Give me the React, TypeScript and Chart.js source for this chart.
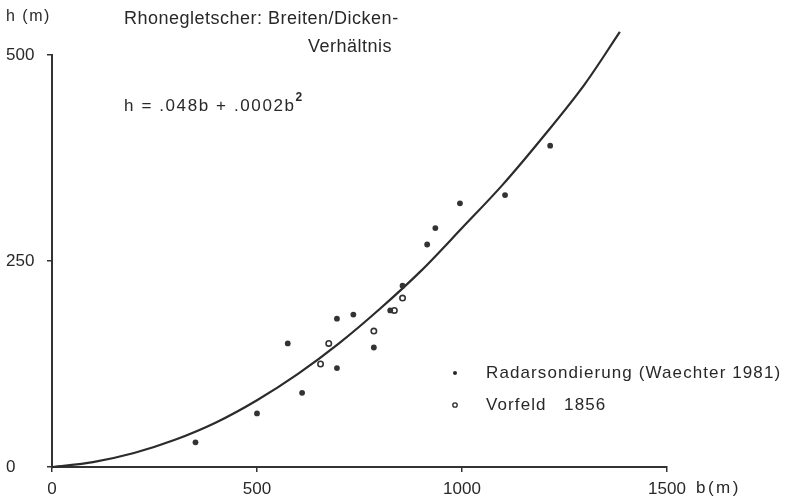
import React, { useEffect, useRef } from 'react';
import { Chart, registerables } from 'chart.js';

Chart.register(...registerables);

// Radarsondierung (Waechter 1981) — filled dots
const radarB = [350, 500, 610, 575, 695, 695, 735, 785, 825, 855, 915, 935, 995, 1105, 1215];
const radarH = [30, 65, 90, 150, 120, 180, 185, 145, 190, 220, 270, 290, 320, 330, 390];

// Vorfeld 1856 — open circles
const vorfeldB = [655, 675, 785, 835, 855];
const vorfeldH = [125, 150, 165, 190, 205];

// fitted curve
const curveB = [0, 100, 200, 300, 400, 500, 600, 700, 800, 900, 1000, 1100, 1200, 1300, 1385];
const curveH = [0, 6, 17, 33, 54, 81, 113, 150, 192, 238, 290, 343, 402, 465, 528];

const xTicks = [0, 500, 1000, 1500];
const yTicks = [0, 250, 500];

const titleLine1 = 'Rhonegletscher: Breiten/Dicken-';
const titleLine2 = 'Verhältnis';
const formulaText = 'h = .048b + .0002b';
const yAxisLabel = 'h (m)';
const xAxisLabel = 'b(m)';
const legendLabels = ['Radarsondierung (Waechter 1981)', 'Vorfeld   1856'];

const INK = '#282828';
const FONT = '"Liberation Sans", Arial, sans-serif';

const textPlugin = {
  id: 'textPlugin',
  afterDraw(chart: any) {
    const ctx = chart.ctx;
    ctx.save();
    ctx.fillStyle = INK;
    ctx.strokeStyle = INK;
    ctx.textBaseline = 'middle';
    ctx.textAlign = 'left';

    ctx.font = `18px ${FONT}`;
    (ctx as any).letterSpacing = '0.5px';
    ctx.fillText(titleLine1, 124, 19);
    ctx.fillText(titleLine2, 308, 47);

    ctx.font = `17px ${FONT}`;
    (ctx as any).letterSpacing = '1.6px';
    ctx.fillText(formulaText, 124, 106);
    const w = ctx.measureText(formulaText).width;
    ctx.font = `bold 12px ${FONT}`;
    (ctx as any).letterSpacing = '0px';
    ctx.fillText('2', 124 + w, 98);

    ctx.font = `16px ${FONT}`;
    (ctx as any).letterSpacing = '1.5px';
    ctx.fillText(yAxisLabel, 6, 17);

    ctx.font = `17px ${FONT}`;
    (ctx as any).letterSpacing = '2.5px';
    ctx.fillText(xAxisLabel, 696, 488);

    // legend
    ctx.font = `17px ${FONT}`;
    (ctx as any).letterSpacing = '1.1px';
    ctx.beginPath();
    ctx.arc(455, 373, 2, 0, Math.PI * 2);
    ctx.fill();
    ctx.fillText(legendLabels[0], 486, 373);
    ctx.beginPath();
    ctx.lineWidth = 1.3;
    ctx.arc(455, 405, 2.2, 0, Math.PI * 2);
    ctx.stroke();
    ctx.fillText(legendLabels[1], 486, 405);
    ctx.restore();
  },
};

export default function App() {
  const ref = useRef<HTMLCanvasElement>(null);

  useEffect(() => {
    document.body.style.margin = '0';
    const canvas = ref.current!;
    const chart = new Chart(canvas, {
      type: 'scatter',
      data: {
        datasets: [
          {
            label: 'curve',
            type: 'line',
            data: curveB.map((b, i) => ({ x: b, y: curveH[i] })),
            borderColor: '#2b2b2b',
            borderWidth: 2.2,
            pointRadius: 0,
            showLine: true,
            fill: false,
            cubicInterpolationMode: 'monotone',
            clip: false,
            order: 3,
          } as any,
          {
            label: legendLabels[0],
            data: radarB.map((b, i) => ({ x: b, y: radarH[i] })),
            backgroundColor: '#333',
            borderWidth: 0,
            pointRadius: 2.9,
            order: 1,
          },
          {
            label: legendLabels[1],
            data: vorfeldB.map((b, i) => ({ x: b, y: vorfeldH[i] })),
            backgroundColor: '#fff',
            borderColor: '#333',
            borderWidth: 1.6,
            pointRadius: 2.7,
            order: 2,
          },
        ],
      },
      options: {
        animation: false,
        responsive: false,
        devicePixelRatio: 1,
        layout: { padding: { left: 6, right: 120, top: 55, bottom: 0 } },
        plugins: { legend: { display: false }, tooltip: { enabled: false } },
        scales: {
          x: {
            type: 'linear',
            min: 0,
            max: 1500,
            afterBuildTicks: (scale: any) => {
              scale.ticks = xTicks.map((v) => ({ value: v }));
            },
            afterFit: (scale: any) => {
              scale.height = 31;
            },
            ticks: {
              color: INK,
              font: { family: FONT, size: 17 },
              padding: 7,
              maxRotation: 0,
              callback: (v: any) => String(v),
            },
            grid: { drawOnChartArea: false, drawTicks: true, tickLength: 5, color: '#333', lineWidth: 1.5 },
            border: { color: '#333', width: 2 },
          },
          y: {
            type: 'linear',
            min: 0,
            max: 500,
            afterBuildTicks: (scale: any) => {
              scale.ticks = yTicks.map((v) => ({ value: v }));
            },
            afterFit: (scale: any) => {
              scale.width = 46;
            },
            ticks: {
              color: INK,
              font: { family: FONT, size: 17 },
              crossAlign: 'far',
              padding: 6,
              callback: (v: any) => String(v),
            },
            grid: { drawOnChartArea: false, drawTicks: true, tickLength: 5, color: '#333', lineWidth: 1.5 },
            border: { color: '#333', width: 2 },
          },
        },
      },
      plugins: [textPlugin],
    });
    return () => chart.destroy();
  }, []);

  return (
    <div style={{ position: 'absolute', left: 0, top: 0, width: 787, height: 498, background: '#fff' }}>
      <canvas ref={ref} width={787} height={498} />
    </div>
  );
}
